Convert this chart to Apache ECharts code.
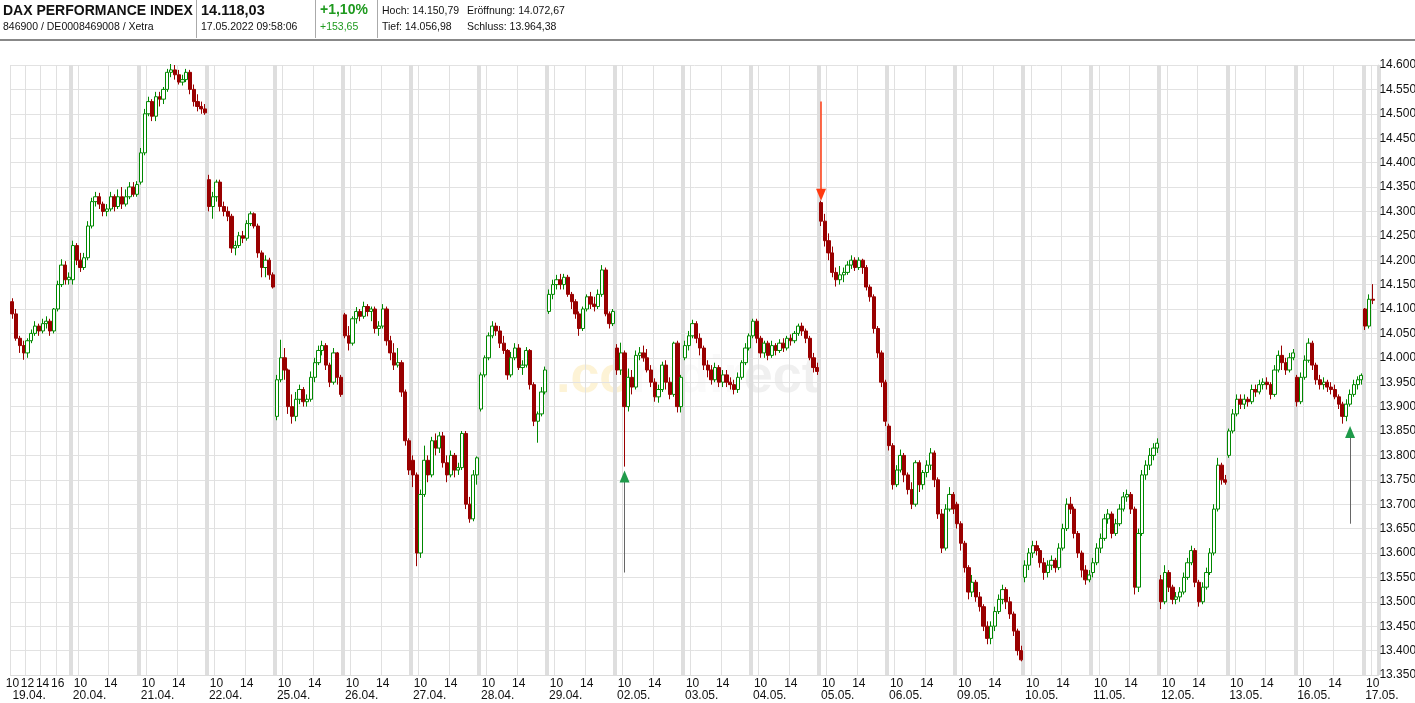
<!DOCTYPE html>
<html>
<head>
<meta charset="utf-8">
<title>DAX Performance Index</title>
<script src="https://cdn.jsdelivr.net/npm/echarts@6/dist/echarts.min.js"></script>
<style>
  html, body { margin: 0; padding: 0; background: #fff; }
  #chart { width: 1415px; height: 703px; }
</style>
</head>
<body>
<div id="chart"></div>
<script>
// Handelstage und 30-Minuten-Raster
const days = ['19.04.', '20.04.', '21.04.', '22.04.', '25.04.', '26.04.', '27.04.', '28.04.', '29.04.',
  '02.05.', '03.05.', '04.05.', '05.05.', '06.05.', '09.05.', '10.05.', '11.05.', '12.05.', '13.05.',
  '16.05.', '17.05.'];
const times = ['09:00', '09:30', '10:00', '10:30', '11:00', '11:30', '12:00', '12:30', '13:00',
  '13:30', '14:00', '14:30', '15:00', '15:30', '16:00', '16:30', '17:00', '17:30'];

// Kerzen je Tag: [open, close, low, high]
const d1904 = [[14115,14090,14080,14122],[14090,14040,14035,14100],[14040,14025,14010,14045],[14025,14010,13996,14035],
  [14010,14035,14000,14040],[14035,14050,14030,14058],[14050,14065,14045,14075],[14065,14055,14045,14070],
  [14055,14070,14050,14080],[14070,14075,14060,14085],[14075,14055,14045,14080],[14055,14100,14050,14102],
  [14100,14150,14095,14158],[14150,14190,14145,14202],[14190,14160,14150,14198],[14160,14165,14150,14175]];
const d2004 = [[14160,14230,14150,14240],[14230,14200,14190,14235],[14200,14185,14176,14215],[14185,14205,14180,14215],
  [14205,14270,14200,14280],[14270,14320,14265,14328],[14320,14330,14310,14340],[14330,14315,14305,14338],
  [14315,14300,14290,14320],[14300,14305,14290,14315],[14305,14330,14300,14340],[14330,14310,14300,14335],
  [14310,14330,14305,14345],[14330,14315,14305,14350],[14315,14330,14310,14345],[14330,14350,14325,14360],
  [14350,14335,14330,14360],[14335,14355,14330,14362]];
const d2104 = [[14360,14420,14355,14430],[14420,14500,14415,14510],[14500,14525,14495,14535],[14525,14495,14485,14530],
  [14495,14535,14485,14545],[14535,14530,14515,14545],[14530,14550,14520,14555],[14550,14585,14545,14592],
  [14585,14590,14575,14602],[14590,14580,14570,14600],[14580,14565,14560,14590],[14565,14570,14558,14580],
  [14570,14585,14565,14592],[14585,14550,14540,14590],[14550,14525,14515,14560],[14525,14515,14505,14540],
  [14515,14510,14500,14525],[14510,14502,14498,14520]];
const d2204 = [[14365,14310,14300,14375],[14310,14330,14285,14340],[14330,14360,14320,14365],[14360,14310,14300,14365],
  [14310,14300,14290,14320],[14300,14290,14280,14310],[14290,14225,14215,14295],[14225,14230,14210,14240],
  [14230,14250,14225,14258],[14250,14245,14235,14260],[14245,14275,14240,14282],[14275,14295,14270,14300],
  [14295,14270,14265,14298],[14270,14215,14205,14275],[14215,14185,14165,14220],[14185,14200,14165,14210],
  [14200,14170,14160,14205],[14170,14145,14142,14175]];
const d2504 = [[13880,13955,13872,13965],[13955,14000,13950,14037],[14000,13975,13955,14020],[13975,13900,13885,13978],
  [13900,13880,13865,13925],[13880,13915,13870,13930],[13915,13935,13905,13945],[13935,13910,13900,13940],
  [13910,13915,13900,13925],[13915,13960,13910,13972],[13960,13990,13950,14000],[13990,14015,13985,14025],
  [14015,14025,14005,14035],[14025,13985,13975,14030],[13985,13950,13940,13990],[13950,14010,13945,14020],
  [14010,13960,13945,14012],[13960,13925,13920,13965]];
const d2604 = [[14088,14045,14040,14092],[14045,14030,14015,14065],[14030,14080,14025,14085],[14080,14095,14070,14104],
  [14095,14085,14075,14100],[14085,14105,14080,14115],[14105,14095,14085,14110],[14095,14100,14075,14105],
  [14100,14060,14050,14105],[14060,14065,14045,14075],[14065,14100,14060,14110],[14100,14035,14025,14105],
  [14035,14010,13995,14045],[14010,13985,13975,14030],[13985,13990,13980,14020],[13990,13930,13920,13995],
  [13930,13830,13820,13935],[13830,13770,13760,13835]];
const d2704 = [[13790,13760,13735,13800],[13760,13600,13573,13765],[13600,13720,13590,13730],[13720,13790,13715,13820],
  [13790,13760,13745,13800],[13760,13830,13755,13838],[13830,13815,13800,13845],[13815,13840,13805,13848],
  [13840,13785,13775,13848],[13785,13760,13745,13800],[13760,13800,13755,13810],[13800,13770,13755,13805],
  [13770,13775,13760,13785],[13775,13845,13770,13850],[13845,13700,13690,13850],[13700,13670,13662,13715],
  [13670,13760,13665,13770],[13760,13795,13740,13798]];
const d2804 = [[13895,13965,13890,13970],[13965,14000,13960,14005],[14000,14045,13995,14052],[14045,14065,14040,14075],
  [14065,14055,14045,14072],[14055,14030,14020,14065],[14030,14015,14008,14045],[14015,13965,13955,14018],
  [13965,14000,13960,14012],[14000,14020,13995,14030],[14020,13980,13975,14028],[13980,13985,13965,13995],
  [13985,14015,13980,14022],[14015,13945,13935,14018],[13945,13870,13860,13950],[13870,13885,13826,13890],
  [13885,13930,13880,13940],[13930,13975,13925,13982]];
const d2904 = [[14095,14130,14090,14140],[14130,14150,14120,14160],[14150,14160,14140,14170],[14160,14150,14140,14172],
  [14150,14165,14140,14172],[14165,14130,14125,14170],[14130,14115,14100,14135],[14115,14090,14080,14120],
  [14090,14060,14045,14095],[14060,14100,14055,14105],[14100,14125,14095,14130],[14125,14110,14100,14135],
  [14110,14105,14095,14125],[14105,14130,14100,14140],[14130,14180,14125,14190],[14180,14090,14085,14185],
  [14090,14070,14060,14095],[14070,14095,14065,14100]];
const d0205 = [[14020,13975,13965,14028],[13975,14010,13965,14031],[14010,13900,13777,14015],[13900,13960,13890,13978],
  [13960,13940,13925,13975],[13940,14005,13935,14015],[14005,14010,13995,14022],[14010,14000,13992,14025],
  [14000,13975,13970,14018],[13975,13950,13940,13985],[13950,13920,13910,13958],[13920,13935,13908,13945],
  [13935,13985,13930,13992],[13985,13950,13935,13995],[13950,13925,13915,13960],[13925,14030,13920,14033],
  [14030,13900,13888,14035],[13900,13960,13888,13965]];
const d0305 = [[14000,14025,13995,14035],[14025,14045,14015,14055],[14045,14070,14040,14078],[14070,14040,14030,14075],
  [14040,14020,14005,14050],[14020,13985,13975,14025],[13985,13975,13960,13995],[13975,13955,13945,13985],
  [13955,13980,13950,13990],[13980,13950,13940,13985],[13950,13965,13940,13975],[13965,13950,13940,13975],
  [13950,13945,13935,13960],[13945,13935,13925,13955],[13935,13960,13928,13970],[13960,13990,13955,13995],
  [13990,14020,13985,14030],[14020,14045,14015,14050]];
const d0405 = [[14045,14075,14040,14080],[14075,14040,14030,14080],[14040,14010,14000,14045],[14010,14030,14000,14035],
  [14030,14005,13995,14035],[14005,14025,14000,14035],[14025,14015,14005,14030],[14015,14030,14010,14038],
  [14030,14020,14012,14040],[14020,14040,14015,14045],[14040,14035,14025,14048],[14035,14050,14030,14055],
  [14050,14065,14045,14070],[14065,14055,14045,14072],[14055,14040,14030,14060],[14040,14000,13995,14045],
  [14000,13980,13970,14010],[13980,13972,13965,13990]];
const d0505 = [[14318,14280,14270,14322],[14280,14240,14228,14295],[14240,14215,14200,14255],[14215,14175,14165,14228],
  [14175,14160,14146,14185],[14160,14170,14150,14188],[14170,14175,14155,14185],[14175,14190,14170,14198],
  [14190,14200,14182,14210],[14200,14185,14178,14206],[14185,14200,14180,14206],[14200,14185,14172,14203],
  [14185,14145,14138,14190],[14145,14125,14115,14150],[14125,14060,14050,14130],[14060,14010,14000,14065],
  [14010,13950,13940,14015],[13950,13870,13860,13955]];
const d0605 = [[13860,13820,13810,13865],[13820,13740,13730,13825],[13740,13770,13735,13780],[13770,13800,13765,13812],
  [13800,13760,13745,13805],[13760,13730,13720,13765],[13730,13700,13690,13745],[13700,13785,13695,13790],
  [13785,13740,13725,13790],[13740,13765,13730,13770],[13765,13780,13755,13790],[13780,13805,13770,13815],
  [13805,13750,13735,13810],[13750,13680,13670,13755],[13680,13610,13600,13690],[13610,13690,13605,13700],
  [13690,13720,13685,13735],[13720,13690,13680,13725]];
const d0905 = [[13700,13660,13650,13705],[13660,13620,13605,13665],[13620,13570,13560,13625],[13570,13520,13505,13575],
  [13520,13540,13510,13555],[13540,13510,13500,13545],[13510,13490,13480,13520],[13490,13450,13440,13495],
  [13450,13425,13413,13460],[13425,13450,13413,13460],[13450,13480,13440,13490],[13480,13505,13475,13515],
  [13505,13525,13495,13535],[13525,13500,13485,13530],[13500,13475,13465,13510],[13475,13440,13430,13480],
  [13440,13400,13390,13445],[13400,13381,13378,13410]];
const d1005 = [[13550,13575,13540,13585],[13575,13600,13565,13610],[13600,13615,13590,13625],[13615,13605,13595,13625],
  [13605,13580,13570,13610],[13580,13560,13545,13590],[13560,13575,13550,13585],[13575,13585,13565,13595],
  [13585,13570,13560,13590],[13570,13610,13565,13620],[13610,13650,13605,13660],[13650,13700,13645,13712],
  [13700,13690,13680,13715],[13690,13640,13630,13695],[13640,13600,13590,13645],[13600,13565,13550,13605],
  [13565,13545,13535,13575],[13545,13555,13540,13565]];
const d1105 = [[13560,13580,13550,13590],[13580,13610,13575,13620],[13610,13630,13600,13640],[13630,13670,13625,13680],
  [13670,13680,13660,13690],[13680,13640,13630,13685],[13640,13660,13635,13670],[13660,13690,13655,13700],
  [13690,13715,13685,13725],[13715,13720,13705,13730],[13720,13690,13680,13725],[13690,13530,13515,13695],
  [13530,13640,13520,13650],[13640,13760,13635,13770],[13760,13780,13750,13790],[13780,13800,13770,13815],
  [13800,13815,13790,13825],[13815,13825,13805,13835]];
const d1205 = [[13545,13500,13485,13555],[13500,13560,13495,13575],[13560,13530,13520,13565],[13530,13505,13495,13535],
  [13505,13510,13495,13520],[13510,13520,13500,13530],[13520,13550,13515,13560],[13550,13580,13545,13590],
  [13580,13605,13575,13615],[13605,13540,13530,13610],[13540,13500,13490,13545],[13500,13530,13495,13540],
  [13530,13560,13525,13570],[13560,13600,13555,13610],[13600,13690,13595,13700],[13690,13780,13685,13795],
  [13780,13750,13740,13785],[13750,13745,13740,13760]];
const d1305 = [[13800,13850,13795,13855],[13850,13885,13845,13895],[13885,13915,13880,13925],[13915,13905,13895,13925],
  [13905,13915,13895,13925],[13915,13910,13900,13920],[13910,13935,13905,13945],[13935,13930,13920,13945],
  [13930,13945,13925,13955],[13945,13950,13935,13958],[13950,13945,13935,13960],[13945,13925,13915,13950],
  [13925,13975,13920,13985],[13975,14005,13970,14015],[14005,13990,13975,14025],[13990,13975,13965,14000],
  [13975,14000,13970,14010],[14000,14010,13995,14018]];
const d1605 = [[13960,13910,13900,13965],[13910,13960,13905,13970],[13960,13995,13955,14005],[13995,14030,13990,14040],
  [14030,13985,13975,14035],[13985,13955,13945,13990],[13955,13945,13935,13965],[13945,13950,13935,13960],
  [13950,13940,13930,13955],[13940,13935,13925,13950],[13935,13920,13915,13945],[13920,13905,13895,13925],
  [13905,13880,13865,13910],[13880,13905,13870,13915],[13905,13925,13900,13935],[13925,13945,13920,13955],
  [13945,13955,13935,13962],[13955,13964,13945,13968]];
const d1705 = [[14100,14065,14057,14102],[14065,14120,14060,14130],[14120,14118,14110,14151]];

const dayBars = [d1904, d2004, d2104, d2204, d2504, d2604, d2704, d2804, d2904, d0205, d0305,
  d0405, d0505, d0605, d0905, d1005, d1105, d1205, d1305, d1605, d1705];

// Pfeile: [Kategorie, Startwert, Spitze]
const arrowDown = ['05.05. 09:00', 14525, 14334];
const arrowsUp = [['02.05. 10:00', 13560, 13757], ['16.05. 16:00', 13660, 13848]];

const yTicks = { min: 13350, max: 14600, step: 50 };

// Kategorien aufbauen
const cats = [];
const bars = [];
days.forEach((d, i) => {
  let t = times;
  if (i === 0) t = times.slice(2);
  if (i === days.length - 1) t = times.slice(0, 4);
  t.forEach((tm, j) => {
    cats.push(d + ' ' + tm);
    const b = dayBars[i][j];
    bars.push(b ? b : '-');
  });
});

function isHourLine(i) {
  const p = cats[i].split(' ');
  if (p[1] === '10:00' || p[1] === '14:00') return true;
  return p[0] === days[0] && (p[1] === '12:00' || p[1] === '16:00');
}
function isDayStart(i) {
  return cats[i].split(' ')[1] === '09:00';
}

const font = '"Liberation Sans", Arial, sans-serif';
const chart = echarts.init(document.getElementById('chart'));

const head = (text, x, y, size, bold, color) => ({
  type: 'text', x: x, y: y, silent: true,
  style: { text: text, font: (bold ? 'bold ' : '') + size + 'px ' + font, fill: color || '#111', verticalAlign: 'top' }
});
const vline = (x) => ({
  type: 'line', silent: true,
  shape: { x1: x, y1: 0, x2: x, y2: 38 },
  style: { stroke: '#aaa', lineWidth: 1 }
});

const redLine = { color: '#ff3a10', width: 1.5, type: 'solid' };
const greyLine = { color: '#666666', width: 1, type: 'solid' };

const option = {
  animation: false,
  backgroundColor: '#fff',
  grid: { left: 10.5, right: 36.6, top: 65, bottom: 28, outerBoundsMode: 'none' },
  graphic: [
    head('DAX PERFORMANCE INDEX', 3, 4, 14, true),
    head('846900 / DE0008469008 / Xetra', 3, 22, 10.5),
    vline(196.5),
    head('14.118,03', 201, 3, 14.5, true),
    head('17.05.2022 09:58:06', 201, 22, 10.5),
    vline(315.5),
    head('+1,10%', 320, 3, 14, true, '#1f9a1f'),
    head('+153,65', 320, 22, 10.5, false, '#1f9a1f'),
    vline(377.5),
    head('Hoch: 14.150,79', 382, 6, 10.5),
    head('Eröffnung: 14.072,67', 467, 6, 10.5),
    head('Tief: 14.056,98', 382, 22, 10.5),
    head('Schluss: 13.964,38', 467, 22, 10.5),
    {
      type: 'line', silent: true,
      shape: { x1: 0, y1: 40, x2: 1415, y2: 40 },
      style: { stroke: '#888', lineWidth: 2 }
    },
    {
      type: 'text', x: 556, y: 352, silent: true, z: -1,
      style: {
        text: '{a|.co}{b|mdir}{c|ect}', font: 'bold 52px ' + font, verticalAlign: 'top',
        rich: {
          a: { fill: '#fdf3d6', font: 'bold 52px ' + font },
          b: { fill: '#fafafa', font: 'bold 52px ' + font },
          c: { fill: '#f0f0f0', font: 'bold 52px ' + font }
        }
      }
    }
  ],
  xAxis: [
    {
      // Stundenlinien (10 / 14 Uhr)
      type: 'category',
      data: cats,
      boundaryGap: true,
      axisLine: { show: true, lineStyle: { color: '#dcdcdc' } },
      axisTick: { show: false },
      splitLine: { show: true, interval: (i) => isHourLine(i), lineStyle: { color: '#e0e0e0', width: 1 } },
      axisLabel: {
        interval: (i) => isHourLine(i),
        formatter: (v) => v.split(' ')[1].slice(0, 2),
        hideOverlap: false,
        color: '#111', fontSize: 12, fontFamily: font, margin: 3
      }
    },
    {
      // Tagesbalken und Datum
      type: 'category',
      data: cats,
      position: 'bottom',
      offset: 12,
      boundaryGap: true,
      axisLine: { show: false },
      axisTick: { show: false },
      splitLine: { show: true, interval: (i) => isDayStart(i), lineStyle: { color: '#dedede', width: 4 } },
      axisLabel: {
        interval: (i) => i === 0 || isDayStart(i),
        formatter: (v) => v.split(' ')[0],
        align: 'left',
        showMinLabel: true,
        hideOverlap: false,
        color: '#111', fontSize: 12, fontFamily: font, margin: 3
      }
    }
  ],
  yAxis: {
    type: 'value',
    position: 'right',
    min: yTicks.min,
    max: yTicks.max,
    interval: yTicks.step,
    axisLine: { show: true, lineStyle: { color: '#dcdcdc' } },
    axisTick: { show: false },
    splitLine: { show: true, lineStyle: { color: '#e2e2e2' } },
    axisLabel: {
      margin: 1, color: '#111', fontSize: 12, fontFamily: font,
      formatter: (v) => { const s = String(v); return s.slice(0, s.length - 3) + '.' + s.slice(-3); }
    }
  },
  series: [
    {
      type: 'candlestick',
      xAxisIndex: 0,
      data: bars,
      barWidth: 3.7,
      itemStyle: {
        color: '#ffffff',
        color0: '#990000',
        borderColor: '#008800',
        borderColor0: '#990000',
        borderWidth: 1
      },
      markLine: {
        silent: true,
        z: 10,
        symbol: ['none', 'none'],
        label: { show: false },
        emphasis: { disabled: true },
        data: [
          [{ coord: [arrowDown[0], arrowDown[1]], lineStyle: redLine },
           { coord: [arrowDown[0], arrowDown[2] + 10], lineStyle: redLine }],
          ...arrowsUp.map(a => [
            { coord: [a[0], a[1]], lineStyle: greyLine },
            { coord: [a[0], a[2] - 10], lineStyle: greyLine }
          ])
        ]
      },
      markPoint: {
        silent: true,
        z: 10,
        label: { show: false },
        data: [
          { coord: [arrowDown[0], arrowDown[2]], symbol: 'triangle', symbolSize: [10, 12], symbolRotate: 180,
            itemStyle: { color: '#ff3a10' } },
          ...arrowsUp.map(a => ({
            coord: [a[0], a[2]], symbol: 'triangle', symbolSize: [10, 12],
            itemStyle: { color: '#1f9a4a' }
          }))
        ]
      }
    }
  ]
};

chart.setOption(option);
</script>
</body>
</html>
